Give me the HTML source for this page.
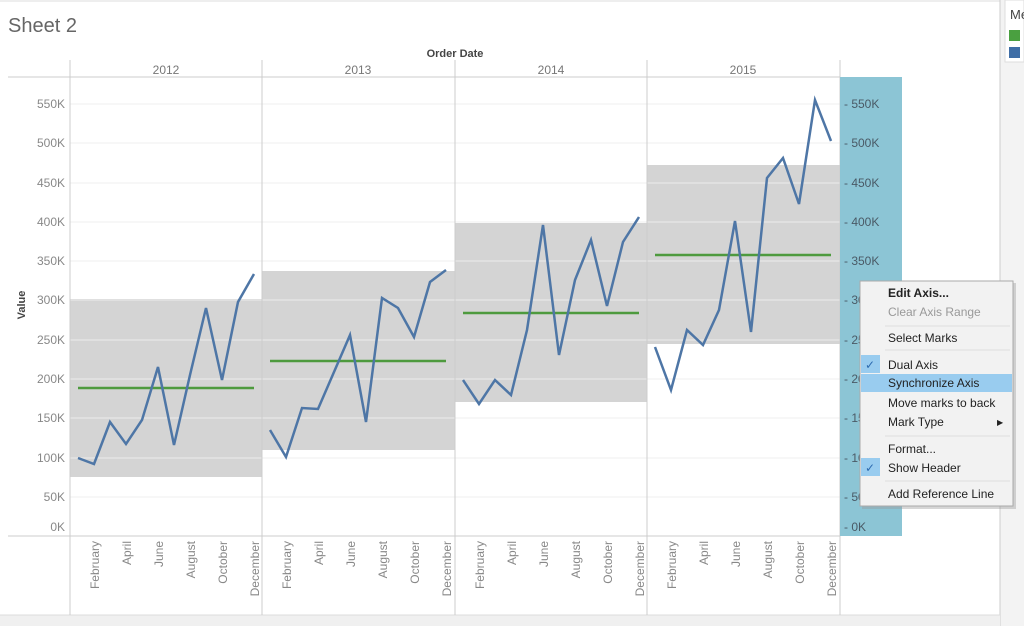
<!DOCTYPE html>
<html><head><meta charset="utf-8"><style>
body{margin:0;width:1024px;height:626px;overflow:hidden;background:#fff;font-family:"Liberation Sans",sans-serif}
</style></head><body>
<svg width="1024" height="626" xmlns="http://www.w3.org/2000/svg" font-family="Liberation Sans, sans-serif">
<rect x="0" y="0" width="1024" height="626" fill="#fff"/>
<line x1="0" y1="1" x2="1000" y2="1" stroke="#ddd"/>
<rect x="1000" y="0" width="24" height="626" fill="#f3f3f3"/>
<line x1="1000" y1="0" x2="1000" y2="626" stroke="#ccc"/>
<rect x="1005" y="0" width="19" height="62" fill="#fff" stroke="#ddd"/>
<text x="1010" y="19" font-size="13" fill="#444">Me</text>
<rect x="1009" y="30" width="11" height="11" fill="#4aa040"/>
<rect x="1009" y="47" width="11" height="11" fill="#3f6ea6"/>
<rect x="0" y="615" width="1000" height="11" fill="#f0f0f0"/>
<line x1="0" y1="615" x2="1000" y2="615" stroke="#ddd"/>
<text x="8" y="32" font-size="20" fill="#666">Sheet 2</text>
<text x="455" y="57" font-size="11" font-weight="bold" fill="#444" text-anchor="middle">Order Date</text>
<g font-size="12" fill="#777" text-anchor="middle">
<text x="166" y="74">2012</text><text x="358" y="74">2013</text><text x="551" y="74">2014</text><text x="743" y="74">2015</text>
</g>
<line x1="8" y1="77" x2="840" y2="77" stroke="#ccc"/>
<g fill="#d4d4d4">
<rect x="70" y="299" width="192" height="178"/>
<rect x="262" y="271" width="193" height="179"/>
<rect x="455" y="223" width="192" height="179"/>
<rect x="647" y="165" width="193" height="179"/>
</g>
<g stroke="#eee" stroke-width="1" opacity="0.9">
<line x1="70" y1="104" x2="840" y2="104"/><line x1="70" y1="143" x2="840" y2="143"/>
<line x1="70" y1="183" x2="840" y2="183"/><line x1="70" y1="222" x2="840" y2="222"/>
<line x1="70" y1="261" x2="840" y2="261"/><line x1="70" y1="300" x2="840" y2="300"/>
<line x1="70" y1="340" x2="840" y2="340"/><line x1="70" y1="379" x2="840" y2="379"/>
<line x1="70" y1="418" x2="840" y2="418"/><line x1="70" y1="458" x2="840" y2="458"/>
<line x1="70" y1="497" x2="840" y2="497"/>
</g>
<g stroke="#ccc">
<line x1="70" y1="60" x2="70" y2="615"/><line x1="262" y1="60" x2="262" y2="615"/>
<line x1="455" y1="60" x2="455" y2="615"/><line x1="647" y1="60" x2="647" y2="615"/>
<line x1="840" y1="60" x2="840" y2="615"/>
<line x1="8" y1="536" x2="840" y2="536"/>
</g>
<g font-size="12" fill="#888" text-anchor="end">
<text x="65" y="108">550K</text><text x="65" y="147">500K</text><text x="65" y="187">450K</text>
<text x="65" y="226">400K</text><text x="65" y="265">350K</text><text x="65" y="304">300K</text>
<text x="65" y="344">250K</text><text x="65" y="383">200K</text><text x="65" y="422">150K</text>
<text x="65" y="462">100K</text><text x="65" y="501">50K</text><text x="65" y="531">0K</text>
</g>
<text transform="translate(25,305) rotate(-90)" font-size="11" font-weight="bold" fill="#444" text-anchor="middle">Value</text>
<rect x="840" y="77" width="62" height="459" fill="#8cc5d5"/>
<g font-size="12" fill="#4a5a66">
<text x="844" y="108">- 550K</text><text x="844" y="147">- 500K</text><text x="844" y="187">- 450K</text>
<text x="844" y="226">- 400K</text><text x="844" y="265">- 350K</text><text x="844" y="304">- 300K</text>
<text x="844" y="344">- 250K</text><text x="844" y="383">- 200K</text><text x="844" y="422">- 150K</text>
<text x="844" y="462">- 100K</text><text x="844" y="501">- 50K</text><text x="844" y="531">- 0K</text>
</g>
<g stroke="#4e9a3e" stroke-width="2.5">
<line x1="78" y1="388" x2="254" y2="388"/>
<line x1="270" y1="361" x2="446" y2="361"/>
<line x1="463" y1="313" x2="639" y2="313"/>
<line x1="655" y1="255" x2="831" y2="255"/>
</g>
<g fill="none" stroke="#4e76a6" stroke-width="2.5" stroke-linejoin="miter">
<polyline points="78,458 94,464 110,422 126,444 142,420 158,367 174,445 190,375 206,308 222,380 238,302 254,274"/>
<polyline points="270,430 286,457 302,408 318,409 334,372 350,335 366,422 382,298 398,308 414,337 430,282 446,270"/>
<polyline points="463,380 479,404 495,380 511,395 527,330 543,225 559,355 575,280 591,240 607,306 623,242 639,217"/>
<polyline points="655,347 671,390 687,330 703,345 719,310 735,221 751,332 767,178 783,158 799,204 815,100 831,141"/>
</g>
<g font-size="12" fill="#888" text-anchor="end">
<g transform="translate(70,0)">
<text transform="translate(29,541) rotate(-90)">February</text><text transform="translate(61,541) rotate(-90)">April</text>
<text transform="translate(93,541) rotate(-90)">June</text><text transform="translate(125,541) rotate(-90)">August</text>
<text transform="translate(157,541) rotate(-90)">October</text><text transform="translate(189,541) rotate(-90)">December</text>
</g>
<g transform="translate(262,0)">
<text transform="translate(29,541) rotate(-90)">February</text><text transform="translate(61,541) rotate(-90)">April</text>
<text transform="translate(93,541) rotate(-90)">June</text><text transform="translate(125,541) rotate(-90)">August</text>
<text transform="translate(157,541) rotate(-90)">October</text><text transform="translate(189,541) rotate(-90)">December</text>
</g>
<g transform="translate(455,0)">
<text transform="translate(29,541) rotate(-90)">February</text><text transform="translate(61,541) rotate(-90)">April</text>
<text transform="translate(93,541) rotate(-90)">June</text><text transform="translate(125,541) rotate(-90)">August</text>
<text transform="translate(157,541) rotate(-90)">October</text><text transform="translate(189,541) rotate(-90)">December</text>
</g>
<g transform="translate(647,0)">
<text transform="translate(29,541) rotate(-90)">February</text><text transform="translate(61,541) rotate(-90)">April</text>
<text transform="translate(93,541) rotate(-90)">June</text><text transform="translate(125,541) rotate(-90)">August</text>
<text transform="translate(157,541) rotate(-90)">October</text><text transform="translate(189,541) rotate(-90)">December</text>
</g>
</g>
<rect x="862" y="283" width="154" height="226" fill="#999" opacity="0.4"/>
<rect x="860" y="281" width="153" height="225" fill="#f2f2f2" stroke="#aaa"/>
<rect x="861" y="374" width="151" height="18" fill="#99ccef"/>
<rect x="861" y="355" width="19" height="18" fill="#99ccef"/>
<rect x="861" y="458" width="19" height="18" fill="#99ccef"/>
<g stroke="#ddd"><line x1="885" y1="326" x2="1010" y2="326"/><line x1="885" y1="350" x2="1010" y2="350"/>
<line x1="885" y1="436" x2="1010" y2="436"/><line x1="885" y1="481" x2="1010" y2="481"/></g>
<g font-size="12" fill="#222">
<text x="888" y="297" font-weight="bold">Edit Axis...</text>
<text x="888" y="316" fill="#999">Clear Axis Range</text>
<text x="888" y="342">Select Marks</text>
<text x="888" y="369">Dual Axis</text>
<text x="888" y="387">Synchronize Axis</text>
<text x="888" y="407">Move marks to back</text>
<text x="888" y="426">Mark Type</text>
<text x="888" y="453">Format...</text>
<text x="888" y="472">Show Header</text>
<text x="888" y="498">Add Reference Line</text>
<text x="997" y="425" font-size="8">▶</text>
<text x="865" y="369" fill="#2d6bb0">✓</text>
<text x="865" y="472" fill="#2d6bb0">✓</text>
</g>
</svg>
</body></html>
